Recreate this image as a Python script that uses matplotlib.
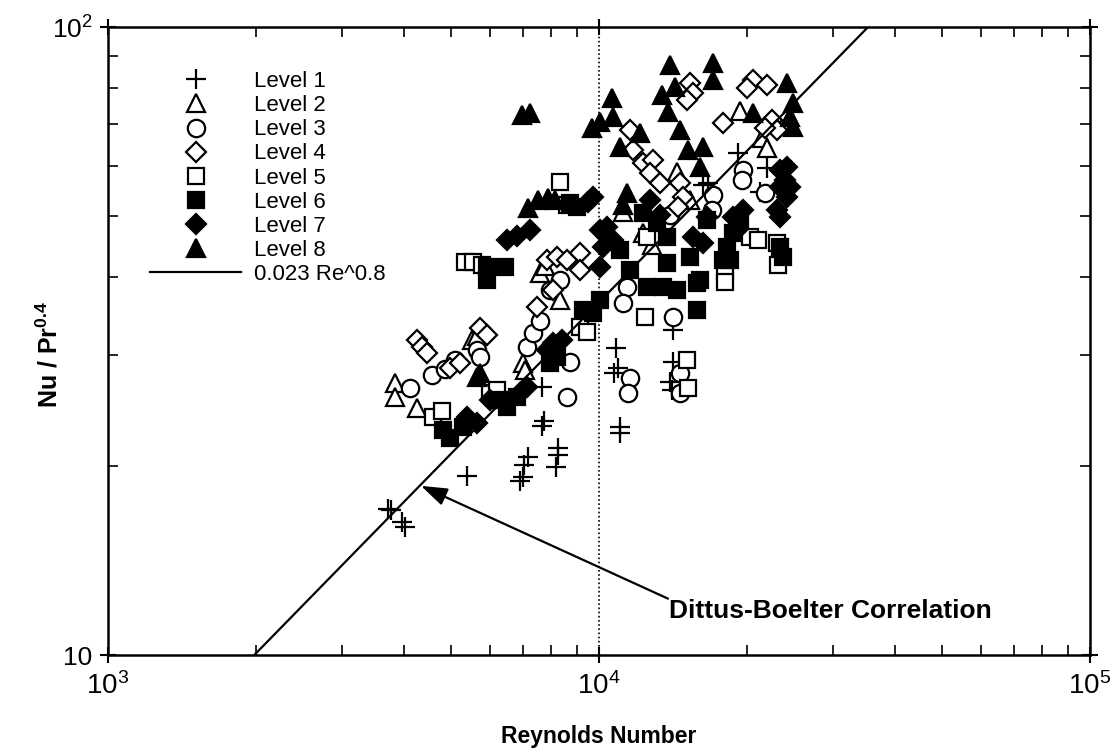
import numpy as np
import matplotlib
matplotlib.use("Agg")
import matplotlib.pyplot as plt

plt.rcParams['font.family'] = ['Liberation Sans', 'DejaVu Sans']
plt.rcParams['mathtext.default'] = 'regular'

# data (Reynolds number, Nu / Pr^0.4)
re_1 = [3718, 3771, 3970, 4026, 5385, 6904, 7003, 7036, 7169, 7656, 7656, 7727, 8175, 8251, 8251,
        10830, 10932, 10728, 11036, 11036, 14150, 14150, 13952, 14084, 16672, 19193, 21988, 21279, 16285]
nu_1 = [17.1, 17.0, 16.3, 16.0, 19.3, 18.9, 19.2, 20.1, 20.7, 26.7, 23.2, 23.6, 19.9, 20.8, 21.4,
        30.8, 28.7, 28.1, 23.1, 22.6, 32.9, 29.3, 27.2, 26.4, 56.4, 63.0, 59.6, 54.6, 56.0]

re_2 = [3842, 3842, 4259, 5513, 5643, 7003, 7069, 7585, 7763, 8329, 11193, 12294, 12823, 14420,
        19375, 21478, 21988, 15323]
nu_2 = [27.1, 25.8, 24.7, 31.7, 32.2, 29.2, 28.4, 40.6, 41.6, 36.7, 50.8, 47.0, 45.0, 58.7,
        73.5, 66.6, 64.2, 53.0]

re_3 = [4122, 4570, 4859, 5091, 5643, 5723, 7135, 7337, 7585, 7947, 8329, 8729, 8607, 11406, 11193,
        11568, 11461, 14150, 14622, 14622, 17071, 16990, 19649, 19554, 21782, 13952]
nu_3 = [26.6, 27.9, 28.6, 29.5, 30.6, 29.8, 30.9, 32.6, 34.1, 38.1, 39.5, 29.3, 25.8, 38.5, 36.4,
        27.6, 26.1, 34.5, 28.1, 26.1, 54.0, 51.1, 59.2, 57.0, 54.4, 50.2]

re_4 = [4259, 4361, 4465, 4973, 5212, 5723, 5914, 7478, 7836, 8213, 8607, 9149, 9149, 8060,
        11568, 11731, 12294, 12883, 12705, 13313, 14622, 14829, 14487, 15323, 15539, 15109,
        20589, 21988, 20018, 17889, 22508, 23041, 21782]
nu_4 = [31.7, 30.9, 30.3, 28.7, 29.2, 33.2, 32.3, 35.8, 42.6, 43.0, 42.6, 43.7, 41.0, 38.1,
        68.5, 63.7, 60.7, 61.4, 58.5, 56.4, 56.4, 53.6, 51.7, 81.4, 78.5, 76.5,
        82.3, 80.8, 80.0, 70.3, 71.1, 68.5, 69.1]

re_5 = [8329, 8607, 5335, 5539, 5777, 4592, 4790, 5998, 6198, 9149, 9454, 12527, 12411, 15109,
        15181, 18059, 18059, 20302, 21079, 23041, 23153]
nu_5 = [56.6, 52.1, 42.3, 42.3, 41.8, 23.9, 24.5, 26.1, 26.4, 33.3, 32.7, 46.3, 34.5, 29.5,
        26.6, 40.7, 39.3, 46.3, 45.8, 45.3, 41.8]

re_6 = [5914, 6435, 5914, 4813, 4973, 5284, 6286, 6496, 6807, 7947, 8213, 8729, 9021, 9278, 9723,
        10047, 12294, 13127, 13757, 15323, 16596, 16058, 13502, 13757, 14420, 15834, 12527, 15834,
        18484, 17889, 18230, 23366, 23697, 18747, 19375, 11036, 11568]
nu_6 = [41.5, 41.5, 39.5, 22.8, 22.2, 23.1, 25.5, 24.8, 25.8, 29.2, 29.8, 52.4, 51.7, 35.4, 35.0,
        36.7, 50.6, 48.7, 46.3, 43.0, 49.3, 39.5, 38.5, 42.1, 38.1, 35.4, 38.5, 39.1,
        42.6, 42.6, 44.7, 44.7, 43.0, 47.0, 49.3, 44.2, 41.0]

re_7 = [6496, 6807, 7236, 9499, 9723, 5385, 5643, 5998, 6904, 7135, 7836, 8060, 8407, 10047, 10382,
        10678, 10188, 10047, 15539, 16285, 16596, 18747, 19649, 19103, 23366, 24149, 23922, 24491,
        23366, 24149, 23041, 23366, 13313, 12705]
nu_7 = [45.8, 46.5, 47.5, 52.6, 53.6, 23.9, 23.4, 25.5, 26.1, 26.7, 30.6, 31.4, 31.7, 47.5, 48.0,
        45.8, 44.7, 41.5, 46.3, 45.3, 49.8, 49.8, 51.1, 47.5, 59.2, 59.8, 57.0, 55.6,
        55.6, 53.6, 51.1, 49.8, 50.2, 53.0]

re_8 = [6970, 7236, 7169, 7514, 7873, 8136, 5643, 5723, 9676, 10047, 10628, 10678, 11036, 12122,
        13952, 14284, 13440, 13822, 14622, 15181, 16285, 17071, 17071, 20589, 24149, 24837, 24491,
        24837, 11406, 11193, 16058]
nu_8 = [72.4, 73.0, 51.5, 53.0, 53.4, 53.0, 27.7, 28.1, 69.1, 70.6, 77.1, 71.9, 64.4, 67.8,
        87.0, 80.2, 77.9, 73.2, 68.5, 63.7, 64.4, 87.6, 82.3, 73.0, 81.4, 75.7, 71.9,
        69.3, 54.4, 52.1, 59.8]

level_labels = ['Level 1', 'Level 2', 'Level 3', 'Level 4', 'Level 5', 'Level 6', 'Level 7', 'Level 8']
line_label = '0.023 Re^0.8'
x_ticks = [1e3, 1e4, 1e5]
x_tick_labels = [r'$\mathdefault{10^{3}}$', r'$\mathdefault{10^{4}}$', r'$\mathdefault{10^{5}}$']
y_ticks = [10, 100]
y_tick_labels = ['10', r'$\mathdefault{10^{2}}$']
arrow_tip = (4340, 18.6)
arrow_tail = (13822, 12.3)
text_pos = (13900, 11.75)

levels = [(re_1, nu_1), (re_2, nu_2), (re_3, nu_3), (re_4, nu_4),
          (re_5, nu_5), (re_6, nu_6), (re_7, nu_7), (re_8, nu_8)]
styles = [
    dict(marker='+', ms=14, mew=1.6, color='black'),
    dict(marker='^', ms=12.5, mew=1.6, mfc='white', mec='black'),
    dict(marker='o', ms=12.5, mew=1.6, mfc='white', mec='black'),
    dict(marker='D', ms=10, mew=1.6, mfc='white', mec='black'),
    dict(marker='s', ms=11.5, mew=1.6, mfc='white', mec='black'),
    dict(marker='s', ms=11.5, mew=1.6, mfc='black', mec='black'),
    dict(marker='D', ms=10, mew=1.6, mfc='black', mec='black'),
    dict(marker='^', ms=12.5, mew=1.6, mfc='black', mec='black'),
]

fig = plt.figure(figsize=(11.2, 7.53), dpi=100)
ax = fig.add_axes([0.0964, 0.130, 0.8768, 0.834])

handles = []
for (re, nu), st, lab in zip(levels, styles, level_labels):
    h, = ax.plot(re, nu, linestyle='none', label=lab, **st)
    handles.append(h)

re_line = np.logspace(3, 5, 50)
h_line, = ax.plot(re_line, 0.023 * re_line ** 0.8, color='black', lw=1.6, label=line_label)
handles.append(h_line)

ax.axvline(1e4, color='black', lw=1.2, ls=(0, (1, 1.5)))

ax.set_xscale('log')
ax.set_yscale('log')
ax.set_xlim(1e3, 1e5)
ax.set_ylim(10, 100)

ax.set_xticks(x_ticks)
ax.set_xticklabels(x_tick_labels, fontsize=20)
ax.set_yticks(y_ticks)
ax.set_yticklabels(y_tick_labels, fontsize=19)
ax.tick_params(which='major', direction='inout', length=12, width=1.5, top=True, right=True, pad=5)
ax.tick_params(which='minor', direction='in', length=7, width=1.2, top=True, right=True)
ax.tick_params(axis='x', which='major', pad=6)
ax.tick_params(which='minor', labelbottom=False, labelleft=False)
for sp in ax.spines.values():
    sp.set_linewidth(1.8)

ax.set_xlabel('Reynolds Number', labelpad=18, family=['Liberation Sans', 'DejaVu Sans'],
              weight='bold', fontsize=16.5)
ax.set_ylabel(r'Nu / Pr$^{\mathdefault{0.4}}$', fontsize=18, fontweight='bold')
ax.yaxis.set_label_coords(-0.046, 0.478)

ax.annotate('', xy=arrow_tip, xytext=arrow_tail,
            arrowprops=dict(arrowstyle='-|>,head_length=1.6,head_width=0.55', color='black', lw=1.6,
                            shrinkA=0, shrinkB=0))
ax.text(text_pos[0], text_pos[1], 'Dittus-Boelter Correlation', ha='left', va='center',
        family=['Liberation Sans', 'DejaVu Sans'], weight='bold', fontsize=19)

ax.legend(handles=handles, loc='upper left', bbox_to_anchor=(0.043, 0.93), frameon=False,
          fontsize=16, handlelength=4.1, handletextpad=0.55, labelspacing=0.14,
          borderpad=0, borderaxespad=0, numpoints=1)

fig.savefig('out.png', dpi=100)
